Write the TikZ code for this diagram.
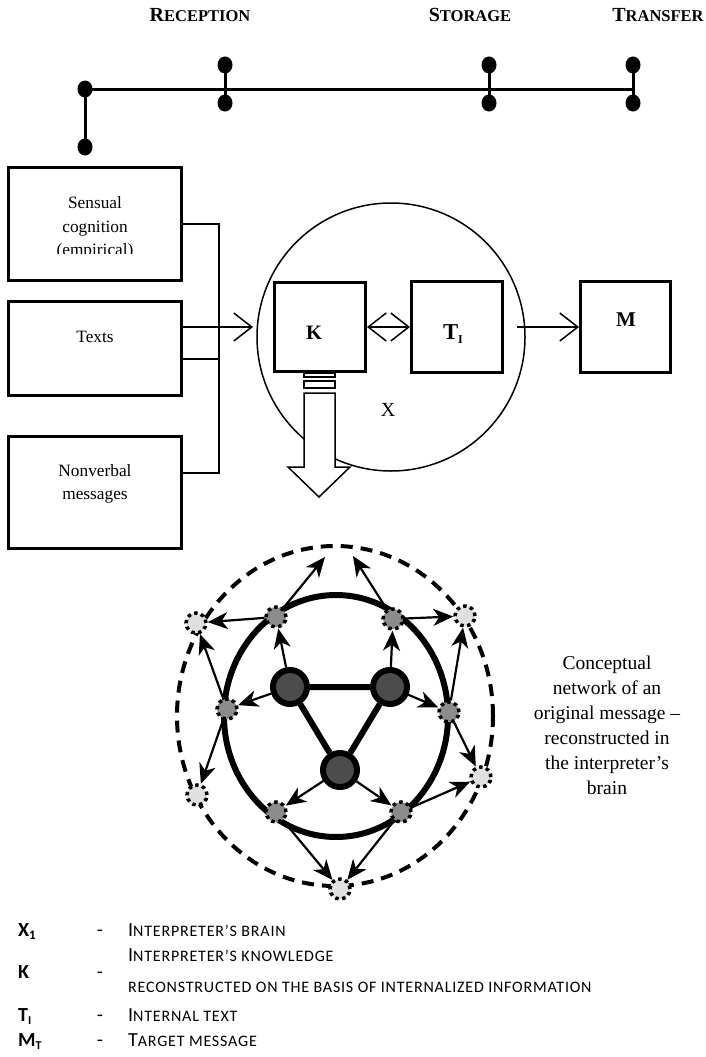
\documentclass[tikz,border=0pt]{standalone}
\usepackage{fontspec}
\setmainfont{Liberation Serif}
\newfontfamily\legfont[LetterSpace=5]{Carlito}
\usetikzlibrary{arrows.meta,shapes.geometric}

\newcommand{\hcap}[2]{{\fontsize{20}{24}\selectfont #1}{\fontsize{16.5}{20}\selectfont #2}}
\newcommand{\lcap}[2]{{\fontsize{20}{22}\selectfont #1}{\fontsize{16}{18}\selectfont #2}}

\begin{document}
\begin{tikzpicture}[x=1pt,y=-1pt,
  tdot/.style={ellipse,fill=black,inner sep=0pt,minimum width=15pt,minimum height=17pt},
  ibox/.style={draw,line width=3pt,fill=white,inner sep=0pt},
  btext/.style={align=center,font=\fontsize{17.3}{23.5}\selectfont},
  inarrow/.style={line width=1.5pt,-{Straight Barb[length=18pt,width=28pt]}},
  cnode/.style={circle,draw,line width=6pt,fill=black!70,minimum size=34pt,inner sep=0pt},
  gdot/.style={circle,draw,line width=3.5pt,dash pattern=on 3.5pt off 3.5pt,fill=black!45,minimum size=20pt,inner sep=0pt},
  ldot/.style={gdot,fill=black!12},
  netarrow/.style={line width=2.2pt,-{Stealth[length=20pt,width=17pt,inset=6pt]}},
  leg/.style={font=\legfont\fontsize{20}{22}\selectfont,inner sep=0pt}]
\useasboundingbox (0,0) rectangle (705,1057);

% stages
\node[font=\bfseries] (rec) at (200,15) {\hcap{R}{ECEPTION}};
\node[font=\bfseries] (sto) at (470,15) {\hcap{S}{TORAGE}};
\node[font=\bfseries] (tra) at (658,15) {\hcap{T}{RANSFER}};
\node[tdot] (t0) at (85,89) {};
\node[tdot] (t0b) at (85,147) {};
\node[tdot] (ta1) at (225,65) {};
\node[tdot] (tb1) at (225,103) {};
\node[tdot] (ta2) at (489,65) {};
\node[tdot] (tb2) at (489,103) {};
\node[tdot] (ta3) at (633,65) {};
\node[tdot] (tb3) at (633,103) {};
\draw[line width=3pt] (t0b.center) -- (t0.center) -- (ta3.center |- t0.center);
\foreach \n in {1,2,3}
  \draw[line width=3pt] (ta\n.center) -- (tb\n.center);

% sources
\node[ibox,minimum width=173pt,minimum height=113pt] (sens) at (95,224) {};
\node[ibox,minimum width=173pt,minimum height=94pt] (texts) at (95,348.5) {};
\node[ibox,minimum width=173pt,minimum height=112pt] (nonv) at (95,492.5) {};
\begin{scope}
  \clip (10,170) rectangle (180,253);
  \node[btext] (sensL) at (95,228) {Sensual\\cognition\\(empirical)};
\end{scope}
\node[btext] (textsL) at (95,337) {Texts};
\node[btext] (nonvL) at (95,484) {Nonverbal\\messages};
\coordinate (bTop) at (219,224);
\coordinate (bMid) at (219,359);
\coordinate (bBot) at (219,473);
\draw[line width=1.5pt] (sens.east) -- (bTop) -- (bBot) -- (nonv.east |- bBot);
\draw[line width=1.5pt] (texts.east |- bMid) -- (bMid);

% brain
\node[circle,draw,line width=1.5pt,minimum size=268pt,inner sep=0pt] (brain) at (391,337) {};
\draw[line width=1.5pt,fill=white] (304,373) rectangle (335,377);
\draw[line width=1.5pt,fill=white] (304,381) rectangle (335,388);
\draw[line width=1.5pt,fill=white] (304,393) -- (304,467) -- (288,467) -- (319,497)
  -- (350,467) -- (335,467) -- (335,393) -- cycle;
\node[ibox,minimum width=91pt,minimum height=89pt] (kbox) at (320,327) {};
\node[ibox,minimum width=91pt,minimum height=91pt] (tbox) at (457,327) {};
\node[ibox,minimum width=90pt,minimum height=91pt] (mbox) at (625.5,327) {};
\node[font=\bfseries\fontsize{20.5}{22}\selectfont] (kL) at (314,333) {K};
\node[font=\bfseries\fontsize{22.7}{24}\selectfont] (tL) at (453,334) {T\raisebox{-4pt}{\fontsize{12}{12}\selectfont I}};
\node[font=\bfseries\fontsize{21}{24}\selectfont] (mL) at (626,320) {M};
\node[font=\fontsize{20}{22}\selectfont] (xL) at (388,410) {X};
\draw[inarrow,shorten >=20pt] (texts.east |- kbox.west) -- (kbox.west);
\draw[line width=1.5pt,{Straight Barb[length=18pt,width=28pt]}-{Straight Barb[length=18pt,width=28pt]}] (kbox.east) -- (tbox.west);
\draw[inarrow,shorten <=13pt] (tbox.east) -- (mbox.west);

% network
\draw[line width=4pt,dash pattern=on 12pt off 8pt] (335,716) ellipse [x radius=158pt,y radius=170pt];
\draw[line width=6pt] (336,716) ellipse [x radius=112pt,y radius=121pt];
\node[cnode] (dL) at (290,687) {};
\node[cnode] (dR) at (390,687) {};
\node[cnode] (dB) at (340,770) {};
\draw[line width=6pt] (dL) -- (dR) -- (dB) -- (dL);
\node[gdot] (gTL) at (276,617) {};
\node[gdot] (gTR) at (393,619) {};
\node[gdot] (gL) at (227,709) {};
\node[gdot] (gR) at (449,712) {};
\node[gdot] (gBL) at (276,812) {};
\node[gdot] (gBR) at (401,812) {};
\node[ldot] (lL) at (196,623) {};
\node[ldot] (lR) at (465,616) {};
\node[ldot] (lBL) at (197,795) {};
\node[ldot] (lBR) at (481,777) {};
\node[ldot] (lB) at (340,889) {};
\coordinate (eTL) at (325,557);
\coordinate (eTR) at (353,556);
\foreach \a/\b in {gTL/eTL,gTR/eTR,gTL/lL,gTR/lR,dL/gTL,dL/gL,dR/gTR,dR/gR,
    gL/lL,gL/lBL,gR/lR,gR/lBR,dB/gBL,dB/gBR,gBL/lB,gBR/lB,gBR/lBR}
  \draw[netarrow] (\a) -- (\b);
\node[align=center,font=\fontsize{19.5}{25}\selectfont] (capt) at (607,725)
  {Conceptual\\network of an\\original message --\\reconstructed in\\the interpreter’s\\brain};

% legend
\node[leg,anchor=base west] (lx) at (18,936) {\bfseries X\raisebox{-3pt}{\fontsize{13}{13}\selectfont 1}};
\node[leg,anchor=base] (dx) at (100,936) {-};
\node[leg,anchor=base west] (tx) at (128,936) {\lcap{I}{NTERPRETER’S BRAIN}};
\node[leg,anchor=base west] (tk1) at (128,961) {\lcap{I}{NTERPRETER’S KNOWLEDGE}};
\node[leg,anchor=base west] (lk) at (18,978) {\bfseries K};
\node[leg,anchor=base] (dk) at (100,978) {-};
\node[leg,anchor=base west] (tk2) at (128,992) {\fontsize{16}{18}\selectfont RECONSTRUCTED ON THE BASIS OF INTERNALIZED INFORMATION};
\node[leg,anchor=base west] (lt) at (18,1021) {\bfseries T\raisebox{-3pt}{\fontsize{12}{12}\selectfont I}};
\node[leg,anchor=base] (dt) at (100,1021) {-};
\node[leg,anchor=base west] (tt) at (128,1021) {\lcap{I}{NTERNAL TEXT}};
\node[leg,anchor=base west] (lm) at (18,1046) {\bfseries M\raisebox{-3pt}{\fontsize{12}{12}\selectfont T}};
\node[leg,anchor=base] (dm) at (100,1046) {-};
\node[leg,anchor=base west] (tm) at (128,1046) {\lcap{T}{ARGET MESSAGE}};
\end{tikzpicture}
\end{document}
